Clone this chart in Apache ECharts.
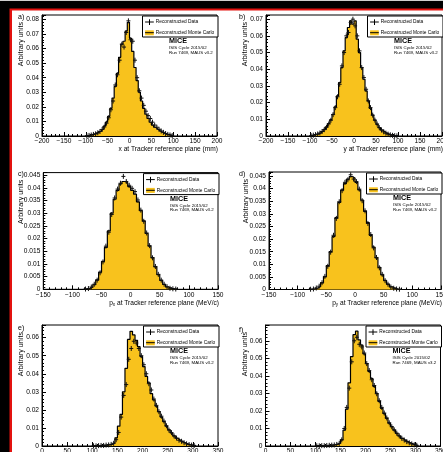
<!DOCTYPE html>
<html>
<head>
<meta charset="utf-8">
<script src="https://cdn.jsdelivr.net/npm/echarts@6/dist/echarts.min.js"></script>
<style>
  html, body { margin: 0; padding: 0; background: #000; }
  #chart { width: 443px; height: 452px; }
</style>
</head>
<body>
<div id="chart"></div>
<script>
// bins are 5 units wide, each array starts at the given lower edge
const binWidth = 5
const xStart = -100
const yStart = -100
const pxStart = -80
const pyStart = -80
const pStart = 100

// a) x at tracker reference plane
const xMC = [0.0003, 0.0005, 0.0008, 0.0012, 0.0018, 0.0025, 0.0035, 0.0048, 0.0068, 0.0095,
  0.0135, 0.019, 0.026, 0.034, 0.043, 0.054, 0.063, 0.065, 0.072, 0.078,
  0.067, 0.058, 0.047, 0.038, 0.030, 0.024, 0.019, 0.015, 0.012, 0.0095,
  0.0075, 0.006, 0.0047, 0.0036, 0.0027, 0.002, 0.0014, 0.001, 0.0006, 0.0003]
const xData = [0.0002, 0.0004, 0.0007, 0.0011, 0.0015, 0.0022, 0.0031, 0.0045, 0.0062, 0.0088,
  0.0125, 0.018, 0.024, 0.035, 0.042, 0.052, 0.063, 0.061, 0.071, 0.079,
  0.066, 0.065, 0.052, 0.040, 0.031, 0.026, 0.021, 0.017, 0.014, 0.012,
  0.0095, 0.0075, 0.006, 0.0046, 0.0034, 0.0025, 0.0017, 0.0011, 0.0007, 0.0003]

// b) y at tracker reference plane
const yMC = [0.0003, 0.0006, 0.0009, 0.0013, 0.0019, 0.0028, 0.004, 0.0055, 0.0075, 0.0098,
  0.013, 0.0175, 0.024, 0.032, 0.041, 0.051, 0.059, 0.065, 0.069, 0.067,
  0.069, 0.058, 0.050, 0.041, 0.034, 0.027, 0.021, 0.0165, 0.0125, 0.0095,
  0.007, 0.005, 0.0036, 0.0025, 0.0017, 0.0011, 0.0007, 0.0004, 0.0002, 0.0001]
const yData = [0.0002, 0.0005, 0.0008, 0.0012, 0.0018, 0.0027, 0.0038, 0.0052, 0.0072, 0.0094,
  0.0128, 0.017, 0.0235, 0.031, 0.042, 0.050, 0.060, 0.062, 0.068, 0.070,
  0.066, 0.060, 0.051, 0.041, 0.035, 0.028, 0.021, 0.017, 0.0125, 0.0095,
  0.0072, 0.005, 0.0036, 0.0025, 0.0017, 0.0011, 0.0007, 0.0004, 0.0002, 0.0001]

// c) px
const pxMC = [0.0001, 0.0003, 0.0008, 0.0018, 0.0037, 0.0068, 0.011, 0.0165, 0.023, 0.030,
  0.0355, 0.039, 0.0415, 0.0425, 0.042, 0.0405, 0.039, 0.0375, 0.0345, 0.031,
  0.027, 0.022, 0.017, 0.0125, 0.0088, 0.0058, 0.0035, 0.0019, 0.0009, 0.0004,
  0.0002, 0.0001]
const pxData = [0.0001, 0.0003, 0.0009, 0.002, 0.0036, 0.0065, 0.0108, 0.017, 0.0225, 0.0295,
  0.036, 0.0395, 0.0418, 0.0445, 0.0425, 0.041, 0.0398, 0.0385, 0.0352, 0.0312,
  0.0268, 0.0222, 0.0172, 0.0124, 0.009, 0.0059, 0.0036, 0.002, 0.001, 0.0004,
  0.0002, 0.0001]

// d) py
const pyMC = [0.0001, 0.0002, 0.0005, 0.0012, 0.0026, 0.005, 0.0095, 0.015, 0.021, 0.0285,
  0.0345, 0.0395, 0.042, 0.0438, 0.0448, 0.0442, 0.0425, 0.0395, 0.0355, 0.031,
  0.0265, 0.0215, 0.0168, 0.0125, 0.0088, 0.0058, 0.0036, 0.0021, 0.0011, 0.0005,
  0.0002, 0.0001]
const pyData = [0.0001, 0.0002, 0.0006, 0.0013, 0.0027, 0.0052, 0.0092, 0.0148, 0.0215, 0.0282,
  0.0348, 0.0392, 0.0425, 0.0435, 0.0455, 0.0438, 0.0428, 0.0398, 0.0352, 0.0312,
  0.0262, 0.0218, 0.0165, 0.0127, 0.0086, 0.006, 0.0035, 0.0021, 0.001, 0.0005,
  0.0002, 0.0001]

// e) total momentum, f) second sample
const pMC = [0.0001, 0.0002, 0.0002, 0.0003, 0.0004, 0.0005, 0.0007, 0.001, 0.0018, 0.0045,
  0.011, 0.0175, 0.030, 0.043, 0.059, 0.0635, 0.0615, 0.0585, 0.055, 0.0495,
  0.044, 0.0385, 0.035, 0.029, 0.0255, 0.022, 0.019, 0.016, 0.0135, 0.011,
  0.009, 0.0072, 0.0056, 0.0043, 0.0033, 0.0025, 0.0018, 0.0012, 0.0008, 0.0005,
  0.0003]
const pData = [0.0001, 0.0001, 0.0002, 0.0003, 0.0003, 0.0005, 0.0006, 0.0009, 0.0015, 0.0035,
  0.0075, 0.016, 0.028, 0.034, 0.048, 0.054, 0.058, 0.057, 0.054, 0.050,
  0.045, 0.040, 0.0345, 0.031, 0.026, 0.0225, 0.019, 0.0165, 0.0138, 0.0112,
  0.0088, 0.0074, 0.0056, 0.0044, 0.0032, 0.0026, 0.0018, 0.0012, 0.0008, 0.0005,
  0.0003]
const p2MC = [0.0001, 0.0001, 0.0002, 0.0002, 0.0003, 0.0004, 0.0005, 0.0007, 0.001, 0.0016,
  0.0035, 0.009, 0.021, 0.036, 0.051, 0.0635, 0.0655, 0.0605, 0.0575, 0.0525,
  0.047, 0.0425, 0.0385, 0.034, 0.030, 0.0255, 0.0215, 0.0185, 0.0158, 0.013,
  0.011, 0.009, 0.0072, 0.0057, 0.0044, 0.0033, 0.0025, 0.0018, 0.0012, 0.0007,
  0.0004]
const p2Data = [0.0001, 0.0001, 0.0002, 0.0002, 0.0003, 0.0004, 0.0005, 0.0006, 0.0009, 0.0015,
  0.0035, 0.010, 0.022, 0.033, 0.048, 0.060, 0.062, 0.058, 0.0565, 0.053,
  0.047, 0.043, 0.0378, 0.0345, 0.0298, 0.0258, 0.022, 0.0188, 0.016, 0.0132,
  0.011, 0.0092, 0.0073, 0.0058, 0.0044, 0.0034, 0.0025, 0.0018, 0.0012, 0.0007,
  0.0004]

const panels = [
  { tag: 'a)', mc: xMC, data: xData, start: xStart, xMin: -200, xMax: 200, yMax: 0.083, yStep: 0.01, title: 'x at Tracker reference plane (mm)' },
  { tag: 'b)', mc: yMC, data: yData, start: yStart, xMin: -200, xMax: 200, yMax: 0.0725, yStep: 0.01, title: 'y at Tracker reference plane (mm)' },
  { tag: 'c)', mc: pxMC, data: pxData, start: pxStart, xMin: -150, xMax: 150, yMax: 0.046, yStep: 0.005, title: 'p{s|x} at Tracker reference plane (MeV/c)' },
  { tag: 'd)', mc: pyMC, data: pyData, start: pyStart, xMin: -150, xMax: 150, yMax: 0.0466, yStep: 0.005, title: 'p{s|y} at Tracker reference plane (MeV/c)' },
  { tag: 'e)', mc: pMC, data: pData, start: pStart, xMin: 0, xMax: 350, yMax: 0.067, yStep: 0.01, title: '' },
  { tag: 'f)', mc: p2MC, data: p2Data, start: pStart, xMin: 0, xMax: 350, yMax: 0.069, yStep: 0.01, title: '' }
]

// pixel layout of each pad
const layout = [
  { left: 42, top: 15, width: 175, height: 121, tagX: 18, tagY: 17.5, unitsX: 21 },
  { left: 266, top: 15, width: 176, height: 121, tagX: 239, tagY: 17.5, unitsX: 245 },
  { left: 43.3, top: 172.6, width: 174.7, height: 116.7, tagX: 18, tagY: 174, unitsX: 21 },
  { left: 269, top: 172, width: 172, height: 117.5, tagX: 239, tagY: 174, unitsX: 246 },
  { left: 42, top: 325, width: 176, height: 121, tagX: 18, tagY: 328, unitsX: 21 },
  { left: 265.5, top: 325, width: 175, height: 121, tagX: 239, tagY: 330, unitsX: 245 }
]

const ff = 'Liberation Sans, Arial, sans-serif'
const mcColor = '#f8c21d'

function histLine (vals, start) {
  const pts = [[start, 0]]
  vals.forEach((v, i) => pts.push([start + i * binWidth, v]))
  pts.push([start + vals.length * binWidth, 0])
  return pts
}

function binPoints (vals, start) {
  return vals.map((v, i) => [start + (i + 0.5) * binWidth, v])
}

function renderCross (params, api) {
  const p = api.coord([api.value(0), api.value(1)])
  const s = { stroke: '#111', lineWidth: 1 }
  return {
    type: 'group',
    children: [
      { type: 'line', shape: { x1: p[0] - 2, y1: p[1], x2: p[0] + 2, y2: p[1] }, style: s },
      { type: 'line', shape: { x1: p[0], y1: p[1] - 2.5, x2: p[0], y2: p[1] + 2.5 }, style: s }
    ]
  }
}

function txt (x, y, s, size, extra) {
  return {
    type: 'text',
    x: x,
    y: y,
    z: 10,
    silent: true,
    style: Object.assign({
      text: s,
      fontSize: size,
      fontFamily: ff,
      fill: '#000',
      textAlign: 'left',
      align: 'left',
      textVerticalAlign: 'middle',
      verticalAlign: 'middle'
    }, extra || {})
  }
}

function line (x1, y1, x2, y2, w) {
  return { type: 'line', z: 11, silent: true, shape: { x1, y1, x2, y2 }, style: { stroke: '#000', lineWidth: w || 1 } }
}

function decor (L, p) {
  const r = L.left + L.width
  const b = L.top + L.height
  const bx = r - 74.5
  const by = L.top + 1
  const els = [
    txt(L.tagX, L.tagY, p.tag, 7),
    Object.assign(txt(L.unitsX, L.top + 7, 'Arbitrary units', 7.2, { textAlign: 'right', align: 'right' }), { rotation: Math.PI / 2 }),
    { type: 'rect', z: 10, silent: true, shape: { x: bx, y: by, width: r + 1 - bx, height: 21 }, style: { fill: '#fff', stroke: '#000', lineWidth: 1 } },
    line(bx + 2.6, by + 6, bx + 11.3, by + 6),
    line(bx + 7, by + 3.3, bx + 7, by + 9),
    txt(bx + 13.3, by + 6, 'Reconstructed Data', 4.8),
    { type: 'rect', z: 11, silent: true, shape: { x: bx + 2.6, y: by + 14.3, width: 8.7, height: 5 }, style: { fill: mcColor } },
    line(bx + 2.6, by + 16.7, bx + 11.3, by + 16.7),
    txt(bx + 13.3, by + 16.7, 'Reconstructed Monte Carlo', 4.8),
    txt(r - 48, L.top + 26.5, 'MICE', 7.2, { fontWeight: 'bold' }),
    txt(r - 48, L.top + 33, 'ISIS Cycle 2015/02', 4.4),
    txt(r - 48, L.top + 37.5, 'Run 7469, MAUS v3.2', 4.4)
  ]
  if (p.title) {
    els.push(txt(r + 1, b + 13.5, p.title, 6.6, {
      textAlign: 'right',
      align: 'right',
      lineHeight: 9,
      rich: { s: { fontSize: 4.6, fontFamily: ff, lineHeight: 5, verticalAlign: 'bottom' } }
    }))
  }
  return els
}

const frame = [
  { type: 'rect', z: -20, silent: true, shape: { x: 0, y: 0, width: 443, height: 452 }, style: { fill: '#000' } },
  { type: 'rect', z: -19, silent: true, shape: { x: 0, y: 0, width: 443, height: 1 }, style: { fill: '#cfcfcf' } },
  { type: 'rect', z: -18, silent: true, shape: { x: 9.5, y: 8.5, width: 434, height: 444 }, style: { fill: '#e3120f' } },
  { type: 'rect', z: -17, silent: true, shape: { x: 12, y: 10.5, width: 431, height: 442 }, style: { fill: '#fff' } }
]

const axisBase = {
  axisLine: { show: true, onZero: false, lineStyle: { color: '#000', width: 1 } },
  axisTick: { show: true, inside: true, length: 4, lineStyle: { color: '#000', width: 1 } },
  minorTick: { show: true, splitNumber: 5, length: 2, lineStyle: { color: '#000', width: 1 } },
  splitLine: { show: false },
  minorSplitLine: { show: false }
}

const option = {
  animation: false,
  backgroundColor: 'transparent',
  grid: layout.map(L => ({
    left: L.left,
    top: L.top,
    width: L.width,
    height: L.height,
    show: true,
    borderColor: '#000',
    borderWidth: 1,
    outerBoundsMode: 'none'
  })),
  xAxis: panels.map((p, i) => Object.assign({}, axisBase, {
    gridIndex: i,
    type: 'value',
    min: p.xMin,
    max: p.xMax,
    interval: 50,
    axisLabel: {
      color: '#000',
      fontSize: 6.6,
      fontFamily: ff,
      margin: 2,
      hideOverlap: false,
      showMinLabel: true,
      showMaxLabel: true,
      formatter: v => (v < 0 ? '\u2212' + Math.abs(v) : String(v))
    }
  })),
  yAxis: panels.map((p, i) => Object.assign({}, axisBase, {
    gridIndex: i,
    type: 'value',
    min: 0,
    max: p.yMax,
    interval: p.yStep,
    axisLabel: {
      color: '#000',
      fontSize: 6.6,
      fontFamily: ff,
      margin: 3,
      hideOverlap: false,
      showMinLabel: true,
      showMaxLabel: false
    }
  })),
  series: panels.map((p, i) => ({
    type: 'line',
    name: 'Reconstructed Monte Carlo',
    xAxisIndex: i,
    yAxisIndex: i,
    step: 'end',
    symbol: 'none',
    silent: true,
    data: histLine(p.mc, p.start),
    lineStyle: { color: '#000', width: 1.2 },
    areaStyle: { color: mcColor, opacity: 1 },
    z: 3
  })).concat(panels.map((p, i) => ({
    type: 'custom',
    name: 'Reconstructed Data',
    xAxisIndex: i,
    yAxisIndex: i,
    silent: true,
    renderItem: renderCross,
    data: binPoints(p.data, p.start),
    z: 4
  }))),
  graphic: {
    elements: frame.concat(...panels.map((p, i) => decor(layout[i], p)))
  }
}

const myChart = echarts.init(document.getElementById('chart'))
myChart.setOption(option)
</script>
</body>
</html>
